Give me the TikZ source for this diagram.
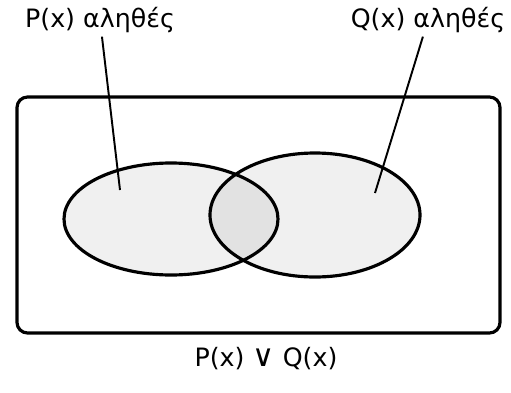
\documentclass[tikz,border=0pt]{standalone}
\usepackage{fontspec}
\setmainfont{DejaVu Sans}
\begin{document}
\begin{tikzpicture}[
    font=\Large,
    universe/.style={draw=black, line width=1.8pt, rounded corners=6pt},
    set/.style={draw=black, line width=1.8pt, fill=black, fill opacity=0.06},
    caption/.style={inner sep=2pt},
    link/.style={draw=black, line width=1.1pt},
  ]
  \useasboundingbox (0,0) rectangle (10.22,7.84);
  % universe
  \draw[universe] (0.34,1.18) rectangle (10.0,5.90);
  % the two sets
  \draw[set] (3.42,3.46) ellipse [x radius=2.14, y radius=1.12];
  \draw[set] (6.30,3.54) ellipse [x radius=2.10, y radius=1.24];
  % labels
  \node[caption] (Ptxt) at (2.0,7.44) {P(x) αληθές};
  \node[caption] (Qtxt) at (8.56,7.44) {Q(x) αληθές};
  \node[caption] (PorQ) at (5.32,0.66) {P(x) {\LARGE ∨} Q(x)};
  % pointers
  \coordinate (Pin) at (2.40,4.04);
  \coordinate (Qin) at (7.50,3.98);
  \draw[link] (Ptxt) -- (Pin);
  \draw[link] (Qtxt) -- (Qin);
\end{tikzpicture}
\end{document}
